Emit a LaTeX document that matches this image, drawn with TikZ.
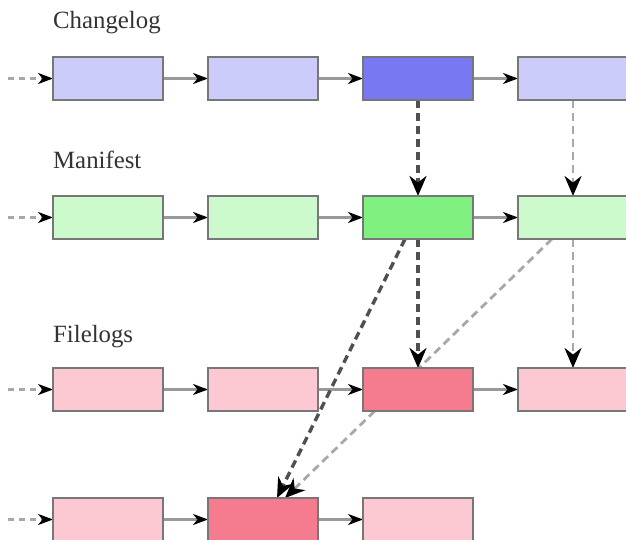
\documentclass[tikz,border=0pt]{standalone}
\usepackage{fontspec}
\setmainfont{Liberation Serif}
\usetikzlibrary{arrows.meta}
\definecolor{cl}{HTML}{CCCCFA}
\definecolor{cd}{HTML}{7878F2}
\definecolor{ml}{HTML}{CCFACC}
\definecolor{md}{HTML}{80F080}
\definecolor{fl}{HTML}{FCC8D2}
\definecolor{fd}{HTML}{F47C8E}
\definecolor{bord}{HTML}{777777}
\definecolor{conn}{HTML}{999999}
\definecolor{darkd}{HTML}{505050}
\definecolor{lightd}{HTML}{A8A8A8}
\definecolor{txt}{HTML}{333333}
\pgfdeclarelayer{bg}
\pgfsetlayers{bg,main}
\tikzset{
  rev/.style={draw=bord, line width=1.9pt, minimum width=110pt, minimum height=43pt, inner sep=0pt, outer sep=0pt},
  lbl/.style={anchor=base west, inner sep=0pt, text=txt, font=\fontsize{24.8}{28}\selectfont},
  link/.style={draw=conn, line width=2.2pt, -{Stealth[length=15pt,width=11pt,inset=4.5pt,color=black]}},
  inlink/.style={draw=lightd, line width=2.2pt, dash pattern=on 6pt off 5pt, -{Stealth[length=15pt,width=11pt,inset=4.5pt,color=black]}},
  strong/.style={draw=darkd, line width=3.4pt, dash pattern=on 8pt off 5pt, -{Stealth[length=20pt,width=17pt,inset=6.5pt,color=black]}},
  weak/.style={draw=lightd, line width=2.8pt, dash pattern=on 8pt off 5pt, -{Stealth[length=20pt,width=17pt,inset=6.5pt,color=black]}},
}
\begin{document}
\begin{tikzpicture}[x=1pt,y=-1pt]
\useasboundingbox (0,0) rectangle (626,540);
% labels
\node[lbl] (lc) at (53,29) {Changelog};
\node[lbl] (lm) at (53,169) {Manifest};
\node[lbl] (lf) at (53,342) {Filelogs};
% changelog
\node[rev, fill=cl] (c1) at (108,78.5) {};
\node[rev, fill=cl] (c2) at (263,78.5) {};
\node[rev, fill=cd] (c3) at (418,78.5) {};
\node[rev, fill=cl] (c4) at (573,78.5) {};
% manifest
\node[rev, fill=ml] (m1) at (108,217.5) {};
\node[rev, fill=ml] (m2) at (263,217.5) {};
\node[rev, fill=md] (m3) at (418,217.5) {};
\node[rev, fill=ml] (m4) at (573,217.5) {};
% filelog 1
\node[rev, fill=fl] (f1) at (108,389.5) {};
\node[rev, fill=fl] (f2) at (263,389.5) {};
\node[rev, fill=fd] (f3) at (418,389.5) {};
\node[rev, fill=fl] (f4) at (573,389.5) {};
% filelog 2
\node[rev, fill=fl] (g1) at (108,519.5) {};
\node[rev, fill=fd] (g2) at (263,519.5) {};
\node[rev, fill=fl] (g3) at (418,519.5) {};
% free ends
\coordinate (ci) at (8,78.5);
\coordinate (mi) at (8,217.5);
\coordinate (fi) at (8,389.5);
\coordinate (gi) at (8,519.5);
\begin{pgfonlayer}{bg}
\fill[white] (0,0) rectangle (626,540);
\draw[inlink] (ci) -- (c1.west);
\draw[inlink] (mi) -- (m1.west);
\draw[inlink] (fi) -- (f1.west);
\draw[inlink] (gi) -- (g1.west);
\draw[link] (c1) -- (c2);
\draw[link] (c2) -- (c3);
\draw[link] (c3) -- (c4);
\draw[link] (m1) -- (m2);
\draw[link] (m2) -- (m3);
\draw[link] (m3) -- (m4);
\draw[link] (f1) -- (f2);
\draw[link] (f2) -- (f3);
\draw[link] (f3) -- (f4);
\draw[link] (g1) -- (g2);
\draw[link] (g2) -- (g3);
% manifest references
\draw[weak] ([xshift=-21pt]m4.south) -- ([xshift=22pt]g2.north);
\draw[weak] (c4.south) -- (m4.north);
\draw[weak] (m4.south) -- (f4.north);
\draw[strong] (c3.south) -- (m3.north);
\draw[strong] (m3.south) -- (f3.north);
\draw[strong] ([xshift=-13pt]m3.south) -- ([xshift=14pt]g2.north);
\end{pgfonlayer}
\end{tikzpicture}
\end{document}
